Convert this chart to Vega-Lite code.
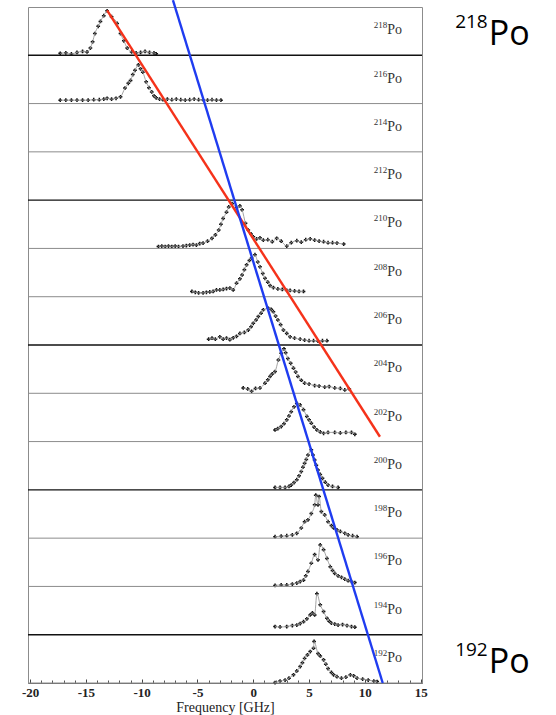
{
  "$schema": "https://vega.github.io/schema/vega-lite/v6.json",
  "width": 394,
  "height": 676,
  "autosize": {"type": "none"},
  "padding": {"left": 28, "top": 7, "right": 134, "bottom": 32},
  "background": "white",
  "config": {"view": {"stroke": "#8c8c8c", "strokeWidth": 1}},
  "resolve": {"axis": {"x": "independent"}},
  "datasets": {
    "spectra": [
      {"A":218,"f":-17.3,"v":0.04},{"A":218,"f":-16.8,"v":0.05},{"A":218,"f":-16.3,"v":0.03},{"A":218,"f":-15.8,"v":0.06},{"A":218,"f":-15.3,"v":0.08},{"A":218,"f":-14.9,"v":0.07},{"A":218,"f":-14.6,"v":0.15},{"A":218,"f":-14.4,"v":0.28},{"A":218,"f":-14.2,"v":0.45},{"A":218,"f":-13.9,"v":0.6},{"A":218,"f":-13.7,"v":0.7},{"A":218,"f":-13.4,"v":0.82},{"A":218,"f":-13.1,"v":0.92},{"A":218,"f":-12.7,"v":0.8},{"A":218,"f":-12.2,"v":0.66},{"A":218,"f":-11.9,"v":0.45},{"A":218,"f":-11.6,"v":0.3},{"A":218,"f":-11.3,"v":0.15},{"A":218,"f":-10.9,"v":0.07},{"A":218,"f":-10.5,"v":0.05},{"A":218,"f":-10.1,"v":0.06},{"A":218,"f":-9.7,"v":0.08},{"A":218,"f":-9.3,"v":0.06},{"A":218,"f":-8.9,"v":0.05},{"A":218,"f":-8.7,"v":0.03},
      {"A":216,"f":-17.3,"v":0.07},{"A":216,"f":-16.8,"v":0.07},{"A":216,"f":-16.3,"v":0.07},{"A":216,"f":-15.8,"v":0.07},{"A":216,"f":-15.3,"v":0.07},{"A":216,"f":-14.8,"v":0.07},{"A":216,"f":-14.3,"v":0.08},{"A":216,"f":-13.8,"v":0.08},{"A":216,"f":-13.4,"v":0.09},{"A":216,"f":-13.1,"v":0.11},{"A":216,"f":-12.7,"v":0.09},{"A":216,"f":-12.3,"v":0.11},{"A":216,"f":-11.9,"v":0.14},{"A":216,"f":-11.5,"v":0.32},{"A":216,"f":-11.2,"v":0.42},{"A":216,"f":-11.0,"v":0.48},{"A":216,"f":-10.8,"v":0.6},{"A":216,"f":-10.6,"v":0.69},{"A":216,"f":-10.3,"v":0.8},{"A":216,"f":-10.1,"v":0.72},{"A":216,"f":-9.9,"v":0.65},{"A":216,"f":-9.6,"v":0.45},{"A":216,"f":-9.35,"v":0.33},{"A":216,"f":-9.1,"v":0.24},{"A":216,"f":-8.9,"v":0.16},{"A":216,"f":-8.7,"v":0.12},{"A":216,"f":-8.4,"v":0.09},{"A":216,"f":-8.1,"v":0.08},{"A":216,"f":-7.7,"v":0.09},{"A":216,"f":-7.3,"v":0.08},{"A":216,"f":-6.9,"v":0.09},{"A":216,"f":-6.5,"v":0.08},{"A":216,"f":-6.1,"v":0.07},{"A":216,"f":-5.7,"v":0.08},{"A":216,"f":-5.3,"v":0.09},{"A":216,"f":-4.9,"v":0.08},{"A":216,"f":-4.5,"v":0.08},{"A":216,"f":-4.1,"v":0.07},{"A":216,"f":-3.7,"v":0.08},{"A":216,"f":-3.3,"v":0.07},{"A":216,"f":-2.9,"v":0.07},
      {"A":210,"f":-8.5,"v":0.04},{"A":210,"f":-8.2,"v":0.05},{"A":210,"f":-7.9,"v":0.04},{"A":210,"f":-7.6,"v":0.05},{"A":210,"f":-7.3,"v":0.04},{"A":210,"f":-7.0,"v":0.05},{"A":210,"f":-6.7,"v":0.04},{"A":210,"f":-6.3,"v":0.05},{"A":210,"f":-6.0,"v":0.06},{"A":210,"f":-5.7,"v":0.07},{"A":210,"f":-5.4,"v":0.08},{"A":210,"f":-5.1,"v":0.07},{"A":210,"f":-4.8,"v":0.1},{"A":210,"f":-4.5,"v":0.11},{"A":210,"f":-4.1,"v":0.15},{"A":210,"f":-3.7,"v":0.21},{"A":210,"f":-3.4,"v":0.28},{"A":210,"f":-3.1,"v":0.38},{"A":210,"f":-2.9,"v":0.5},{"A":210,"f":-2.7,"v":0.62},{"A":210,"f":-2.4,"v":0.75},{"A":210,"f":-2.2,"v":0.86},{"A":210,"f":-1.9,"v":0.93},{"A":210,"f":-1.5,"v":0.85},{"A":210,"f":-1.2,"v":0.88},{"A":210,"f":-1.0,"v":0.8},{"A":210,"f":-0.7,"v":0.52},{"A":210,"f":-0.45,"v":0.38},{"A":210,"f":-0.2,"v":0.3},{"A":210,"f":0.0,"v":0.24},{"A":210,"f":0.3,"v":0.2},{"A":210,"f":0.6,"v":0.22},{"A":210,"f":0.9,"v":0.17},{"A":210,"f":1.3,"v":0.18},{"A":210,"f":1.7,"v":0.14},{"A":210,"f":2.1,"v":0.21},{"A":210,"f":2.5,"v":0.15},{"A":210,"f":3.0,"v":0.05},{"A":210,"f":3.4,"v":0.12},{"A":210,"f":3.9,"v":0.16},{"A":210,"f":4.3,"v":0.13},{"A":210,"f":4.7,"v":0.18},{"A":210,"f":5.1,"v":0.2},{"A":210,"f":5.5,"v":0.17},{"A":210,"f":5.9,"v":0.15},{"A":210,"f":6.3,"v":0.14},{"A":210,"f":6.7,"v":0.12},{"A":210,"f":7.1,"v":0.12},{"A":210,"f":7.5,"v":0.11},{"A":210,"f":8.1,"v":0.09},
      {"A":208,"f":-5.5,"v":0.11},{"A":208,"f":-5.2,"v":0.09},{"A":208,"f":-4.9,"v":0.08},{"A":208,"f":-4.5,"v":0.08},{"A":208,"f":-4.2,"v":0.09},{"A":208,"f":-3.9,"v":0.1},{"A":208,"f":-3.6,"v":0.11},{"A":208,"f":-3.3,"v":0.14},{"A":208,"f":-3.0,"v":0.14},{"A":208,"f":-2.7,"v":0.15},{"A":208,"f":-2.4,"v":0.17},{"A":208,"f":-2.1,"v":0.18},{"A":208,"f":-1.8,"v":0.14},{"A":208,"f":-1.5,"v":0.28},{"A":208,"f":-1.2,"v":0.37},{"A":208,"f":-1.0,"v":0.45},{"A":208,"f":-0.8,"v":0.56},{"A":208,"f":-0.6,"v":0.66},{"A":208,"f":-0.35,"v":0.75},{"A":208,"f":-0.15,"v":0.8},{"A":208,"f":0.15,"v":0.87},{"A":208,"f":0.4,"v":0.72},{"A":208,"f":0.6,"v":0.62},{"A":208,"f":0.85,"v":0.48},{"A":208,"f":1.05,"v":0.38},{"A":208,"f":1.3,"v":0.3},{"A":208,"f":1.5,"v":0.23},{"A":208,"f":1.8,"v":0.19},{"A":208,"f":2.2,"v":0.16},{"A":208,"f":2.6,"v":0.15},{"A":208,"f":3.0,"v":0.13},{"A":208,"f":3.3,"v":0.13},{"A":208,"f":3.7,"v":0.12},{"A":208,"f":4.1,"v":0.11},{"A":208,"f":4.5,"v":0.11},
      {"A":206,"f":-4.0,"v":0.12},{"A":206,"f":-3.7,"v":0.14},{"A":206,"f":-3.4,"v":0.12},{"A":206,"f":-3.0,"v":0.17},{"A":206,"f":-2.7,"v":0.12},{"A":206,"f":-2.4,"v":0.14},{"A":206,"f":-2.1,"v":0.11},{"A":206,"f":-1.8,"v":0.15},{"A":206,"f":-1.5,"v":0.18},{"A":206,"f":-1.2,"v":0.24},{"A":206,"f":-0.8,"v":0.26},{"A":206,"f":-0.45,"v":0.31},{"A":206,"f":-0.2,"v":0.38},{"A":206,"f":0.0,"v":0.45},{"A":206,"f":0.25,"v":0.52},{"A":206,"f":0.45,"v":0.59},{"A":206,"f":0.7,"v":0.66},{"A":206,"f":0.9,"v":0.73},{"A":206,"f":1.35,"v":0.76},{"A":206,"f":1.6,"v":0.74},{"A":206,"f":1.8,"v":0.69},{"A":206,"f":2.0,"v":0.6},{"A":206,"f":2.2,"v":0.52},{"A":206,"f":2.45,"v":0.42},{"A":206,"f":2.7,"v":0.31},{"A":206,"f":3.0,"v":0.24},{"A":206,"f":3.3,"v":0.17},{"A":206,"f":3.7,"v":0.14},{"A":206,"f":4.2,"v":0.12},{"A":206,"f":4.6,"v":0.1},{"A":206,"f":5.0,"v":0.09},{"A":206,"f":5.4,"v":0.09},{"A":206,"f":5.8,"v":0.08},{"A":206,"f":6.2,"v":0.09},{"A":206,"f":6.6,"v":0.09},
      {"A":204,"f":-0.9,"v":0.11},{"A":204,"f":-0.5,"v":0.09},{"A":204,"f":-0.15,"v":0.04},{"A":204,"f":0.2,"v":0.1},{"A":204,"f":0.6,"v":0.11},{"A":204,"f":1.05,"v":0.21},{"A":204,"f":1.3,"v":0.28},{"A":204,"f":1.5,"v":0.35},{"A":204,"f":1.7,"v":0.4},{"A":204,"f":1.95,"v":0.45},{"A":204,"f":2.25,"v":0.69},{"A":204,"f":2.5,"v":0.83},{"A":204,"f":2.75,"v":0.92},{"A":204,"f":2.9,"v":0.84},{"A":204,"f":3.1,"v":0.72},{"A":204,"f":3.35,"v":0.62},{"A":204,"f":3.6,"v":0.52},{"A":204,"f":3.8,"v":0.44},{"A":204,"f":4.0,"v":0.35},{"A":204,"f":4.3,"v":0.27},{"A":204,"f":4.6,"v":0.21},{"A":204,"f":5.0,"v":0.19},{"A":204,"f":5.5,"v":0.16},{"A":204,"f":5.9,"v":0.15},{"A":204,"f":6.4,"v":0.13},{"A":204,"f":6.8,"v":0.14},{"A":204,"f":7.3,"v":0.11},{"A":204,"f":7.8,"v":0.1},{"A":204,"f":8.2,"v":0.07},{"A":204,"f":8.6,"v":0.09},
      {"A":202,"f":1.95,"v":0.24},{"A":202,"f":2.2,"v":0.27},{"A":202,"f":2.5,"v":0.31},{"A":202,"f":2.75,"v":0.37},{"A":202,"f":3.0,"v":0.45},{"A":202,"f":3.2,"v":0.53},{"A":202,"f":3.4,"v":0.62},{"A":202,"f":3.65,"v":0.72},{"A":202,"f":3.9,"v":0.79},{"A":202,"f":4.2,"v":0.76},{"A":202,"f":4.5,"v":0.66},{"A":202,"f":4.8,"v":0.52},{"A":202,"f":5.0,"v":0.45},{"A":202,"f":5.2,"v":0.38},{"A":202,"f":5.45,"v":0.3},{"A":202,"f":5.7,"v":0.24},{"A":202,"f":6.0,"v":0.2},{"A":202,"f":6.3,"v":0.17},{"A":202,"f":6.7,"v":0.19},{"A":202,"f":7.3,"v":0.19},{"A":202,"f":7.8,"v":0.18},{"A":202,"f":8.3,"v":0.19},{"A":202,"f":8.8,"v":0.19},{"A":202,"f":9.1,"v":0.15},
      {"A":200,"f":1.95,"v":0.05},{"A":200,"f":2.4,"v":0.05},{"A":200,"f":2.85,"v":0.05},{"A":200,"f":3.2,"v":0.07},{"A":200,"f":3.4,"v":0.1},{"A":200,"f":3.65,"v":0.15},{"A":200,"f":3.9,"v":0.21},{"A":200,"f":4.1,"v":0.29},{"A":200,"f":4.3,"v":0.38},{"A":200,"f":4.45,"v":0.47},{"A":200,"f":4.6,"v":0.55},{"A":200,"f":4.75,"v":0.63},{"A":200,"f":4.9,"v":0.72},{"A":200,"f":5.2,"v":0.83},{"A":200,"f":5.35,"v":0.72},{"A":200,"f":5.5,"v":0.62},{"A":200,"f":5.65,"v":0.51},{"A":200,"f":5.8,"v":0.41},{"A":200,"f":6.0,"v":0.32},{"A":200,"f":6.2,"v":0.24},{"A":200,"f":6.45,"v":0.16},{"A":200,"f":6.7,"v":0.1},{"A":200,"f":7.1,"v":0.07},{"A":200,"f":7.6,"v":0.05},
      {"A":198,"f":1.95,"v":0.03},{"A":198,"f":2.5,"v":0.04},{"A":198,"f":3.0,"v":0.05},{"A":198,"f":3.5,"v":0.07},{"A":198,"f":3.9,"v":0.1},{"A":198,"f":4.3,"v":0.21},{"A":198,"f":4.6,"v":0.34},{"A":198,"f":4.9,"v":0.38},{"A":198,"f":5.2,"v":0.51},{"A":198,"f":5.5,"v":0.69},{"A":198,"f":5.6,"v":0.89},{"A":198,"f":5.8,"v":0.69},{"A":198,"f":5.9,"v":0.86},{"A":198,"f":6.1,"v":0.55},{"A":198,"f":6.4,"v":0.48},{"A":198,"f":6.7,"v":0.34},{"A":198,"f":7.0,"v":0.26},{"A":198,"f":7.2,"v":0.21},{"A":198,"f":7.5,"v":0.17},{"A":198,"f":7.8,"v":0.14},{"A":198,"f":8.2,"v":0.1},{"A":198,"f":8.5,"v":0.07},{"A":198,"f":8.9,"v":0.05},{"A":198,"f":9.3,"v":0.03},
      {"A":196,"f":1.95,"v":0.02},{"A":196,"f":2.5,"v":0.03},{"A":196,"f":3.0,"v":0.03},{"A":196,"f":3.5,"v":0.05},{"A":196,"f":3.9,"v":0.07},{"A":196,"f":4.2,"v":0.1},{"A":196,"f":4.5,"v":0.13},{"A":196,"f":4.7,"v":0.22},{"A":196,"f":4.9,"v":0.31},{"A":196,"f":5.2,"v":0.48},{"A":196,"f":5.5,"v":0.66},{"A":196,"f":5.8,"v":0.55},{"A":196,"f":6.0,"v":0.86},{"A":196,"f":6.3,"v":0.76},{"A":196,"f":6.6,"v":0.58},{"A":196,"f":6.9,"v":0.41},{"A":196,"f":7.1,"v":0.33},{"A":196,"f":7.3,"v":0.27},{"A":196,"f":7.6,"v":0.22},{"A":196,"f":7.9,"v":0.19},{"A":196,"f":8.2,"v":0.15},{"A":196,"f":8.5,"v":0.12},{"A":196,"f":8.8,"v":0.1},{"A":196,"f":9.1,"v":0.08},
      {"A":194,"f":1.95,"v":0.17},{"A":194,"f":2.4,"v":0.16},{"A":194,"f":3.0,"v":0.17},{"A":194,"f":3.5,"v":0.19},{"A":194,"f":3.9,"v":0.2},{"A":194,"f":4.2,"v":0.23},{"A":194,"f":4.5,"v":0.27},{"A":194,"f":4.8,"v":0.33},{"A":194,"f":5.1,"v":0.41},{"A":194,"f":5.3,"v":0.45},{"A":194,"f":5.5,"v":0.41},{"A":194,"f":5.7,"v":0.85},{"A":194,"f":6.0,"v":0.62},{"A":194,"f":6.3,"v":0.48},{"A":194,"f":6.6,"v":0.34},{"A":194,"f":6.8,"v":0.28},{"A":194,"f":7.0,"v":0.24},{"A":194,"f":7.3,"v":0.22},{"A":194,"f":7.6,"v":0.2},{"A":194,"f":8.0,"v":0.21},{"A":194,"f":8.4,"v":0.19},{"A":194,"f":8.8,"v":0.17},{"A":194,"f":9.1,"v":0.155},
      {"A":192,"f":1.95,"v":0.01},{"A":192,"f":2.4,"v":0.04},{"A":192,"f":2.85,"v":0.06},{"A":192,"f":3.2,"v":0.1},{"A":192,"f":3.6,"v":0.17},{"A":192,"f":3.9,"v":0.25},{"A":192,"f":4.2,"v":0.34},{"A":192,"f":4.4,"v":0.42},{"A":192,"f":4.6,"v":0.51},{"A":192,"f":4.85,"v":0.58},{"A":192,"f":5.1,"v":0.65},{"A":192,"f":5.4,"v":0.72},{"A":192,"f":5.45,"v":0.86},{"A":192,"f":5.8,"v":0.61},{"A":192,"f":6.0,"v":0.56},{"A":192,"f":6.3,"v":0.48},{"A":192,"f":6.5,"v":0.39},{"A":192,"f":6.7,"v":0.3},{"A":192,"f":7.0,"v":0.22},{"A":192,"f":7.2,"v":0.17},{"A":192,"f":7.5,"v":0.13},{"A":192,"f":7.9,"v":0.1},{"A":192,"f":8.3,"v":0.12},{"A":192,"f":8.7,"v":0.17},{"A":192,"f":9.0,"v":0.15},{"A":192,"f":9.3,"v":0.1},{"A":192,"f":9.8,"v":0.08},{"A":192,"f":10.3,"v":0.06},{"A":192,"f":10.8,"v":0.04},{"A":192,"f":11.1,"v":0.03}
    ],
    "isotopes": [
      {"A":218,"mass":"218"},{"A":216,"mass":"216"},{"A":214,"mass":"214"},{"A":212,"mass":"212"},{"A":210,"mass":"210"},{"A":208,"mass":"208"},{"A":206,"mass":"206"},{"A":204,"mass":"204"},{"A":202,"mass":"202"},{"A":200,"mass":"200"},{"A":198,"mass":"198"},{"A":196,"mass":"196"},{"A":194,"mass":"194"},{"A":192,"mass":"192"}
    ],
    "trends": [
      {"trend":"red","f":-13.1,"A":218,"v":0.93},{"trend":"red","f":11.35,"A":202,"v":0.1},
      {"trend":"blue","f":-7.2,"A":218,"v":1.14},{"trend":"blue","f":11.6,"A":192,"v":0.0}
    ],
    "ends": [{"A":218,"mass":"218"},{"A":192,"mass":"192"}]
  },
  "layer": [
    {
      "data": {"name": "spectra"},
      "transform": [{"calculate": "(datum.A - 192) / 2 + datum.v", "as": "y"}],
      "mark": {"type": "point", "shape": "cross", "filled": true, "color": "#111111", "size": 14, "opacity": 1},
      "encoding": {
        "x": {
          "field": "f", "type": "quantitative",
          "scale": {"domain": [-20.19, 15.12], "nice": false, "zero": false},
          "axis": {
            "orient": "bottom",
            "values": [-20, -15, -10, -5, 0, 5, 10, 15],
            "tickSize": -4,
            "tickColor": "#444444",
            "domainColor": "#666666",
            "grid": false,
            "labelFont": "Liberation Serif",
            "labelFontSize": 13,
            "labelFontWeight": "bold",
            "labelColor": "#222222",
            "labelPadding": 7,
            "labelFlush": false,
            "labelOverlap": false,
            "labelExpr": "'' + datum.value",
            "title": "Frequency [GHz]",
            "titleFont": "Liberation Serif",
            "titleFontSize": 14,
            "titleFontWeight": "normal",
            "titleColor": "#222222",
            "titlePadding": 1
          }
        },
        "y": {"field": "y", "type": "quantitative", "scale": {"domain": [0, 14], "nice": false, "zero": false}, "axis": null}
      }
    },
    {
      "data": {"name": "spectra"},
      "transform": [{"calculate": "(datum.A - 192) / 2 + datum.v", "as": "y"}],
      "mark": {"type": "line", "color": "#9a9a9a", "strokeWidth": 0.9, "interpolate": "monotone"},
      "encoding": {
        "x": {
          "field": "f", "type": "quantitative",
          "axis": {
            "orient": "bottom",
            "values": [-19,-18,-17,-16,-14,-13,-12,-11,-9,-8,-7,-6,-4,-3,-2,-1,1,2,3,4,6,7,8,9,11,12,13,14],
            "labels": false,
            "domain": false,
            "grid": false,
            "title": null,
            "tickSize": -3,
            "tickColor": "#555555"
          }
        },
        "y": {"field": "y", "type": "quantitative", "axis": null},
        "detail": {"field": "A", "type": "nominal"}
      }
    },
    {
      "data": {"name": "isotopes"},
      "transform": [{"filter": "datum.A !== 218 && datum.A !== 212 && datum.A !== 206 && datum.A !== 200 && datum.A !== 194"}, {"calculate": "(datum.A - 192) / 2", "as": "y"}],
      "mark": {"type": "rule", "color": "#8c8c8c", "strokeWidth": 1},
      "encoding": {
        "y": {"field": "y", "type": "quantitative", "axis": null}
      }
    },
    {
      "data": {"name": "isotopes"},
      "transform": [{"filter": "datum.A === 218 || datum.A === 212 || datum.A === 206 || datum.A === 200 || datum.A === 194"}, {"calculate": "(datum.A - 192) / 2", "as": "y"}],
      "mark": {"type": "rule", "color": "#111111", "strokeWidth": 1.4},
      "encoding": {
        "y": {"field": "y", "type": "quantitative", "axis": null}
      }
    },
    {
      "mark": {"type": "rule", "color": "#111111", "strokeWidth": 1, "strokeDash": [3, 2]},
      "encoding": {
        "x": {"datum": 0, "type": "quantitative", "axis": null}
      }
    },
    {
      "data": {"name": "isotopes"},
      "transform": [{"calculate": "(datum.A - 192) / 2", "as": "y"}],
      "mark": {"type": "text", "align": "right", "baseline": "alphabetic", "dy": -27, "dx": 0, "font": "Liberation Serif", "fontSize": 9, "color": "#333333"},
      "encoding": {
        "x": {"datum": 12.0, "type": "quantitative", "axis": null},
        "y": {"field": "y", "type": "quantitative", "axis": null},
        "text": {"field": "mass"}
      }
    },
    {
      "data": {"name": "isotopes"},
      "transform": [{"calculate": "(datum.A - 192) / 2", "as": "y"}],
      "mark": {"type": "text", "align": "left", "baseline": "alphabetic", "dy": -21, "dx": 0, "font": "Liberation Serif", "fontSize": 14, "color": "#333333"},
      "encoding": {
        "x": {"datum": 12.0, "type": "quantitative", "axis": null},
        "y": {"field": "y", "type": "quantitative", "axis": null},
        "text": {"value": "Po"}
      }
    },
    {
      "data": {"name": "trends"},
      "transform": [{"calculate": "(datum.A - 192) / 2 + datum.v", "as": "y"}],
      "mark": {"type": "line", "strokeWidth": 2.4, "clip": false},
      "encoding": {
        "x": {"field": "f", "type": "quantitative", "axis": null},
        "y": {"field": "y", "type": "quantitative", "axis": null},
        "color": {"field": "trend", "type": "nominal", "scale": {"domain": ["red", "blue"], "range": ["#f5321a", "#1f3cf0"]}, "legend": null},
        "order": {"field": "f", "type": "quantitative"}
      }
    },
    {
      "data": {"name": "ends"},
      "transform": [{"calculate": "(datum.A - 192) / 2", "as": "y"}],
      "mark": {"type": "text", "align": "right", "baseline": "alphabetic", "dy": -27, "dx": -1, "font": "Open Sans", "fontSize": 19, "color": "#000000", "clip": false},
      "encoding": {
        "x": {"datum": 21.1, "type": "quantitative", "axis": null},
        "y": {"field": "y", "type": "quantitative", "axis": null},
        "text": {"field": "mass"}
      }
    },
    {
      "data": {"name": "ends"},
      "transform": [{"calculate": "(datum.A - 192) / 2", "as": "y"}],
      "mark": {"type": "text", "align": "left", "baseline": "alphabetic", "dy": -10, "dx": 0, "font": "Open Sans", "fontSize": 34, "color": "#000000", "clip": false},
      "encoding": {
        "x": {"datum": 21.1, "type": "quantitative", "axis": null},
        "y": {"field": "y", "type": "quantitative", "axis": null},
        "text": {"value": "Po"}
      }
    }
  ]
}
